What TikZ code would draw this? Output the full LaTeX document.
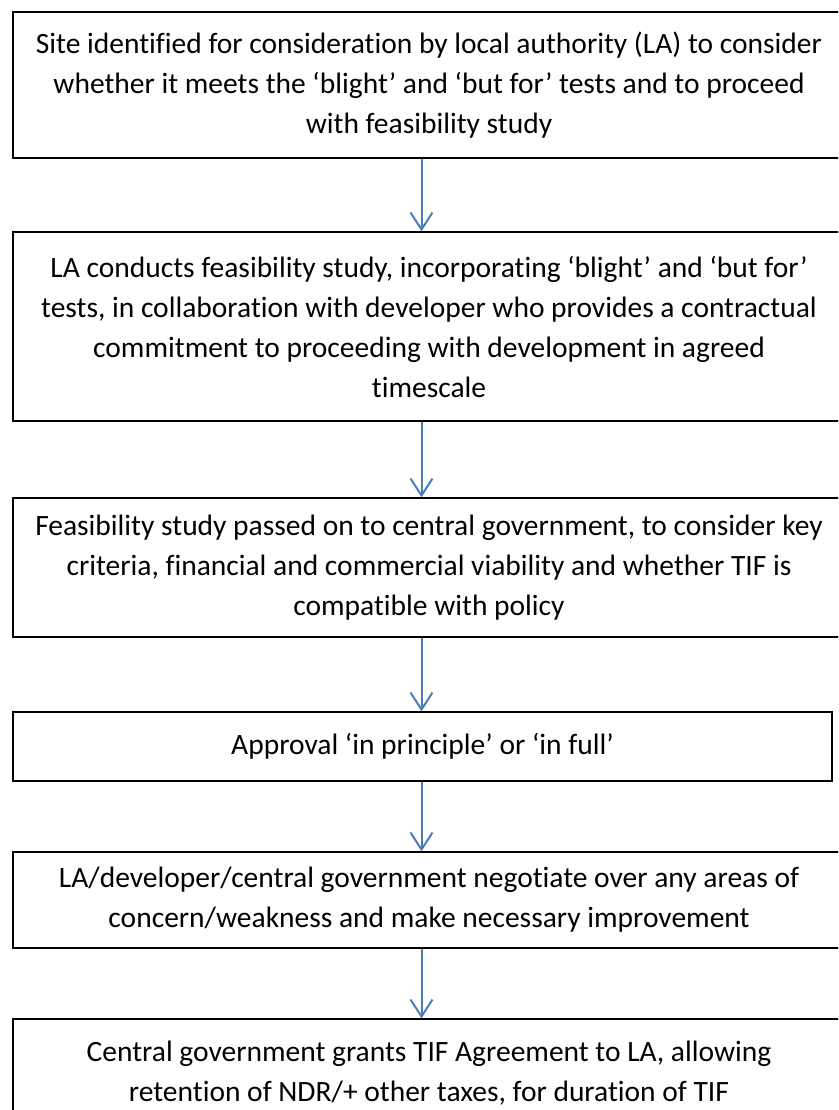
\documentclass[tikz,border=0pt]{standalone}
\usepackage{fontspec}
\setmainfont{Carlito}[Ligatures=NoCommon]
\usetikzlibrary{arrows.meta}
\definecolor{arrowblue}{HTML}{4A7EBB}
\begin{document}
\begin{tikzpicture}[x=1pt,y=-1pt,
  box/.style={draw=black, line width=1.3pt, rectangle, align=center, inner sep=0pt,
    font=\fontsize{29.5}{40}\selectfont},
  flowarrow/.style={draw=arrowblue, line width=2pt,
    -{Straight Barb[length=17pt,width=22pt,line width=2pt]}}]
\useasboundingbox (0,0) rectangle (838,1110);
\clip (0,0) rectangle (838,1110);
\coordinate (ax) at (421.5,0);
\node[box, minimum width=832pt, minimum height=146pt] (b1) at (429,85)
  {Site identified for consideration by local authority (LA) to consider\\
   whether it meets the ‘blight’ and ‘but for’ tests and to proceed\\
   with feasibility study};
\node[box, minimum width=832pt, minimum height=189pt] (b2) at (429,326.5)
  {LA conducts feasibility study, incorporating ‘blight’ and ‘but for’\\
   tests, in collaboration with developer who provides a contractual\\
   commitment to proceeding with development in agreed\\
   timescale};
\node[box, minimum width=832pt, minimum height=139pt] (b3) at (429,567.5)
  {Feasibility study passed on to central government, to consider key\\
   criteria, financial and commercial viability and whether TIF is\\
   compatible with policy};
\node[box, minimum width=819pt, minimum height=69pt] (b4) at (422.5,746.5)
  {Approval ‘in principle’ or ‘in full’};
\node[box, minimum width=832pt, minimum height=96pt] (b5) at (429,900)
  {LA/developer/central government negotiate over any areas of\\
   concern/weakness and make necessary improvement};
\node[box, minimum width=832pt, minimum height=108pt] (b6) at (429,1073)
  {Central government grants TIF Agreement to LA, allowing\\
   retention of NDR/+ other taxes, for duration of TIF};
\draw[flowarrow] (b1.south -| ax) -- (b2.north -| ax);
\draw[flowarrow] (b2.south -| ax) -- (b3.north -| ax);
\draw[flowarrow] (b3.south -| ax) -- (b4.north -| ax);
\draw[flowarrow] (b4.south -| ax) -- (b5.north -| ax);
\draw[flowarrow] (b5.south -| ax) -- (b6.north -| ax);
\end{tikzpicture}
\end{document}
